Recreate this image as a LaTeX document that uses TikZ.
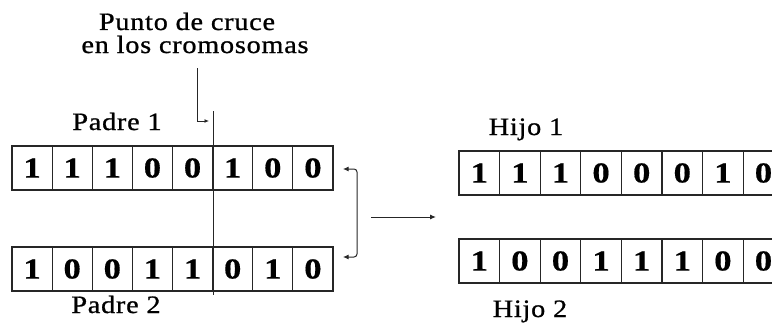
\documentclass[tikz,border=0pt]{standalone}
\usepackage{fontspec}
\setmainfont{Liberation Serif}
\newfontfamily\lblfont[LetterSpace=3, FakeStretch=1.13, FakeBold=0.9]{Liberation Serif}
\newfontfamily\digfont[FakeStretch=1.2, FakeBold=0.5]{Liberation Serif}
\usetikzlibrary{arrows.meta}
\begin{document}
\begin{tikzpicture}[x=1pt,y=-1pt,
  cell/.style={draw=black!85, line width=1.1pt, minimum width=40.1pt, minimum height=44pt, inner sep=0pt, outer sep=0pt, font=\digfont\bfseries\fontsize{29}{29}\selectfont},
  hcell/.style={cell, minimum width=40.6pt},
  lbl/.style={font=\lblfont\fontsize{25}{25}\selectfont, inner sep=0pt, anchor=base},
  conn/.style={line width=1pt, black!85},
  arr/.style={conn, -{Latex[length=6pt,width=5pt]}}]
\useasboundingbox (0,0) rectangle (772,324);
\clip (0,0) rectangle (772,324);
% title
\node[lbl] (t1) at (187,30) {Punto de cruce};
\node[lbl] (t2) at (195,53) {en los cromosomas};
% parents
\node[lbl] (pl1) at (117,130) {Padre 1};
\node[lbl] (pl2) at (116,313) {Padre 2};
\foreach \v [count=\i] in {1,1,1,0,0,1,0,0}
  \node[cell] (a\i) at ({12+40.125*(\i-0.5)},168) {\v};
\foreach \v [count=\i] in {1,0,0,1,1,0,1,0}
  \node[cell] (b\i) at ({12+40.125*(\i-0.5)},269) {\v};
% children
\node[lbl] (hl1) at (526,135) {Hijo 1};
\node[lbl] (hl2) at (530,317) {Hijo 2};
\foreach \v [count=\i] in {1,1,1,0,0,0,1,0}
  \node[hcell] (c\i) at ({459+40.6*(\i-0.5)},173) {\v};
\foreach \v [count=\i] in {1,0,0,1,1,1,0,0}
  \node[hcell] (d\i) at ({459+40.6*(\i-0.5)},261) {\v};
% crossing line
\coordinate (ct) at (213,111);
\coordinate (cb) at (213,295);
\draw[conn] (ct) -- (cb);
% pointer from title
\coordinate (ps) at (197,68);
\coordinate (pe) at (209,121);
\draw[conn, -{Latex[length=4.5pt,width=4pt]}] (ps) |- (pe);
% bracket
\coordinate (bt) at (343,169);
\coordinate (bb) at (343,257);
\coordinate (btr) at (357,169);
\coordinate (bbr) at (357,257);
\draw[conn, {Latex[length=5.5pt,width=5pt]}-{Latex[length=5.5pt,width=5pt]}, rounded corners=3pt] (bt) -- (btr) -- (bbr) -- (bb);
% middle arrow
\coordinate (ms) at (371,217);
\coordinate (me) at (436,217);
\draw[arr] (ms) -- (me);
\end{tikzpicture}
\end{document}
